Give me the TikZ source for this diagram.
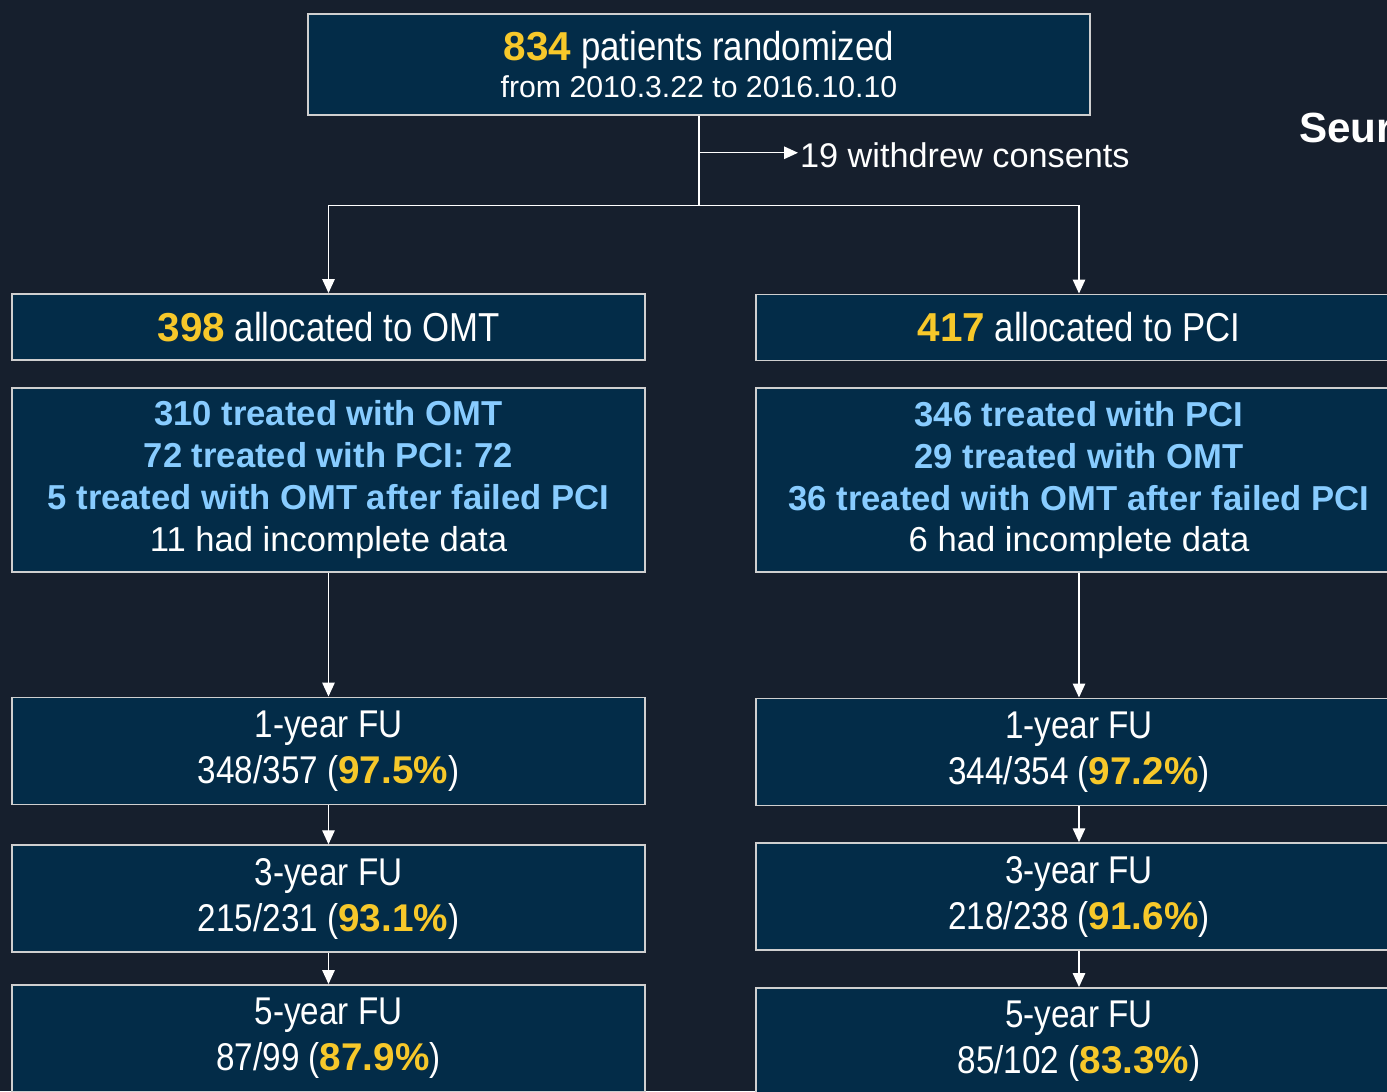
\documentclass[tikz,border=0pt]{standalone}
\usepackage{fontspec}
\setmainfont{Liberation Sans}
\newfontfamily\narrowfont{Liberation Sans}[FakeStretch=0.86]
\usepackage{xcolor}
\usetikzlibrary{positioning,arrows.meta,calc}

\definecolor{bgnavy}{HTML}{161F2D}
\definecolor{boxnavy}{HTML}{032C48}
\definecolor{numyellow}{HTML}{F7C82A}
\definecolor{treatblue}{HTML}{88CCFF}
\definecolor{edgegray}{HTML}{CFCFCF}

\newcommand{\hl}[1]{{\normalfont\bfseries\color{numyellow}#1}}
\newcommand{\tb}[1]{{\bfseries\color{treatblue}#1}}

\begin{document}
\begin{tikzpicture}[
    b/.style={draw=edgegray, line width=1pt, fill=boxnavy, text=white, align=center, inner sep=0pt, minimum width=12.66cm},
    headbox/.style={b, minimum width=15.64cm, minimum height=2.02cm},
    alloc/.style={b, minimum height=1.32cm, font=\narrowfont\fontsize{23}{26}\selectfont},
    detail/.style={b, minimum height=3.68cm, font=\fontsize{19.7}{23.8}\selectfont},
    fu/.style={b, minimum height=2.14cm, font=\narrowfont\fontsize{22}{26.2}\selectfont},
    rcol/.style={minimum width=12.92cm},
    ln/.style={draw=white, line width=0.8pt},
    fl/.style={ln, -{Triangle[length=2.8mm, width=2.5mm]}},
    lb/.style={text=white, inner sep=1pt, font=\fontsize{19.5}{23}\selectfont},
]
    \useasboundingbox (0,0) rectangle (27.74,-21.82);
    \clip (0,0) rectangle (27.74,-21.82);
    \fill[bgnavy] (0,0) rectangle (27.74,-21.82);

    \node[headbox, anchor=north] (head) at (13.98,-0.26)
        {{\narrowfont\fontsize{23}{26}\selectfont\hl{834} patients randomized}\\[3pt]
         \fontsize{17.2}{24}\selectfont from 2010.3.22 to 2016.10.10};
    \node[lb, anchor=west] (wd) at (15.96,-3.1) {19 withdrew consents};
    \node[text=white, anchor=west, font=\bfseries\fontsize{24}{28}\selectfont] (seur) at (25.86,-2.56) {Seur};

    % arms
    \node[alloc, anchor=north] (omt) at (6.57,-5.86) {\hl{398} allocated to OMT};
    \node[alloc, rcol, anchor=north] (pci) at (21.58,-5.87) {\hl{417} allocated to PCI};
    \node[detail, below=0.52cm of omt] (omtd)
        {\tb{310 treated with OMT}\\ \tb{72 treated with PCI: 72}\\
         \tb{5 treated with OMT after failed PCI}\\ 11 had incomplete data};
    \node[detail, rcol, below=0.52cm of pci] (pcid)
        {\tb{346 treated with PCI}\\ \tb{29 treated with OMT}\\
         \tb{36 treated with OMT after failed PCI}\\ 6 had incomplete data};

    % follow-up
    \node[fu, below=2.48cm of omtd] (omt1) {1-year FU\\ 348/357 (\hl{97.5\%})};
    \node[fu, below=0.78cm of omt1] (omt3) {3-year FU\\ 215/231 (\hl{93.1\%})};
    \node[fu, below=0.62cm of omt3] (omt5) {5-year FU\\ 87/99 (\hl{87.9\%})};
    \node[fu, rcol, below=2.49cm of pcid] (pci1) {1-year FU\\ 344/354 (\hl{97.2\%})};
    \node[fu, rcol, below=0.72cm of pci1] (pci3) {3-year FU\\ 218/238 (\hl{91.6\%})};
    \node[fu, rcol, below=0.72cm of pci3] (pci5) {5-year FU\\ 85/102 (\hl{83.3\%})};

    \coordinate (j) at ($(head.south)+(0,-1.8)$);
    \coordinate (w) at ($(head.south)+(0,-0.74)$);
    \draw[ln] (head.south) -- (j);
    \draw[fl] (w) -- (w -| wd.west);
    \draw[fl] (j) -| (omt.north); \draw[fl] (j) -| (pci.north);
    \draw[fl] (omtd) -- (omt1); \draw[fl] (omt1) -- (omt3); \draw[fl] (omt3) -- (omt5);
    \draw[fl] (pcid) -- (pci1); \draw[fl] (pci1) -- (pci3); \draw[fl] (pci3) -- (pci5);
\end{tikzpicture}
\end{document}
